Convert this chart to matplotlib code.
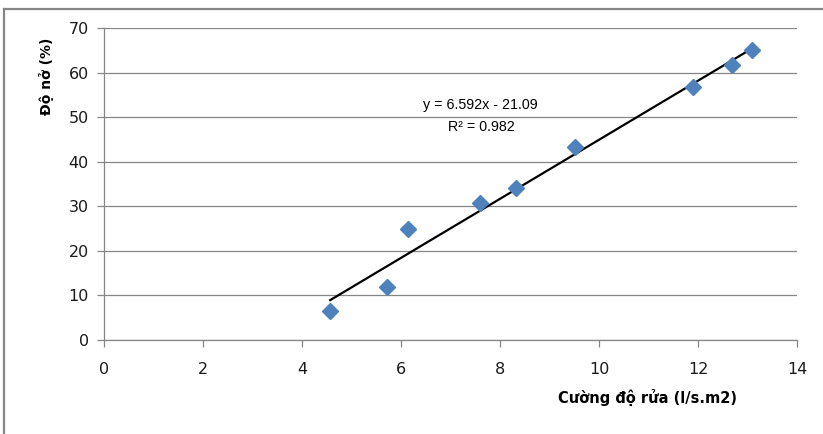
import numpy as np
import matplotlib
matplotlib.use('Agg')
import matplotlib.pyplot as plt
from matplotlib.lines import Line2D

# Data
cuong_do = [4.57, 5.71, 6.15, 7.60, 8.32, 9.51, 11.90, 12.68, 13.10]   # l/s.m2
do_no = [6.6, 12.0, 24.9, 30.8, 34.0, 43.3, 56.7, 61.6, 65.1]        # %
x_ticks = [0, 2, 4, 6, 8, 10, 12, 14]
y_ticks = [0, 10, 20, 30, 40, 50, 60, 70]
eq_line1 = 'y = 6.592x - 21.09'
eq_line2 = 'R² = 0.982'

grey = '#868686'

fig = plt.figure(figsize=(8.23, 4.34), dpi=100)
ax = fig.add_axes([104 / 823, 94 / 434, 693 / 823, 312 / 434])

# Trendline (linear fit over data range)
x = np.array(cuong_do)
y = np.array(do_no)
k, b = np.polyfit(x, y, 1)
xl = np.array([x.min(), x.max()])
ax.plot(xl, k * xl + b, color='black', lw=1.6, zorder=2)

ax.plot(x, y, linestyle='none', marker='D', ms=8.5, color='#4F81BD',
        markeredgecolor='#4F81BD', zorder=3)

ax.set_xlim(0, 14)
ax.set_ylim(0, 70)
ax.set_xticks(x_ticks)
ax.set_yticks(y_ticks)
ax.grid(axis='y', color=grey, lw=0.9)
ax.set_axisbelow(True)
for s in ['top', 'right']:
    ax.spines[s].set_visible(False)
for s in ['left', 'bottom']:
    ax.spines[s].set_color(grey)
    ax.spines[s].set_linewidth(0.9)
ax.tick_params(axis='both', direction='out', length=5, width=0.9, color=grey,
               labelsize=11.5, labelcolor='#1a1a1a')
ax.tick_params(axis='x', pad=11)
ax.tick_params(axis='y', pad=6)

fig.text(480 / 823, 1 - 105 / 434, eq_line1, ha='center', va='center',
         fontsize=10.3, family='Liberation Sans')
fig.text(481 / 823, 1 - 127 / 434, eq_line2, ha='center', va='center',
         fontsize=10.3, family='Liberation Sans')

fig.text(647 / 823, 1 - 398 / 434, 'Cường độ rửa (l/s.m2)', ha='center', va='center',
         fontsize=10.5, fontweight='bold', family='DejaVu Sans')
fig.text(46 / 823, 1 - 76 / 434, 'Độ nở (%)', ha='center', va='center',
         rotation=90, fontsize=10, fontweight='bold', family='DejaVu Sans')

# Chart border (left and top edges visible)
fig.add_artist(Line2D([3.5 / 823, 3.5 / 823], [0, 1 - 8.5 / 434], color=grey, lw=1.6,
                      transform=fig.transFigure))
fig.add_artist(Line2D([3.5 / 823, 1], [1 - 8.5 / 434, 1 - 8.5 / 434], color=grey, lw=1.6,
                      transform=fig.transFigure))

fig.savefig('out.png', dpi=100)
